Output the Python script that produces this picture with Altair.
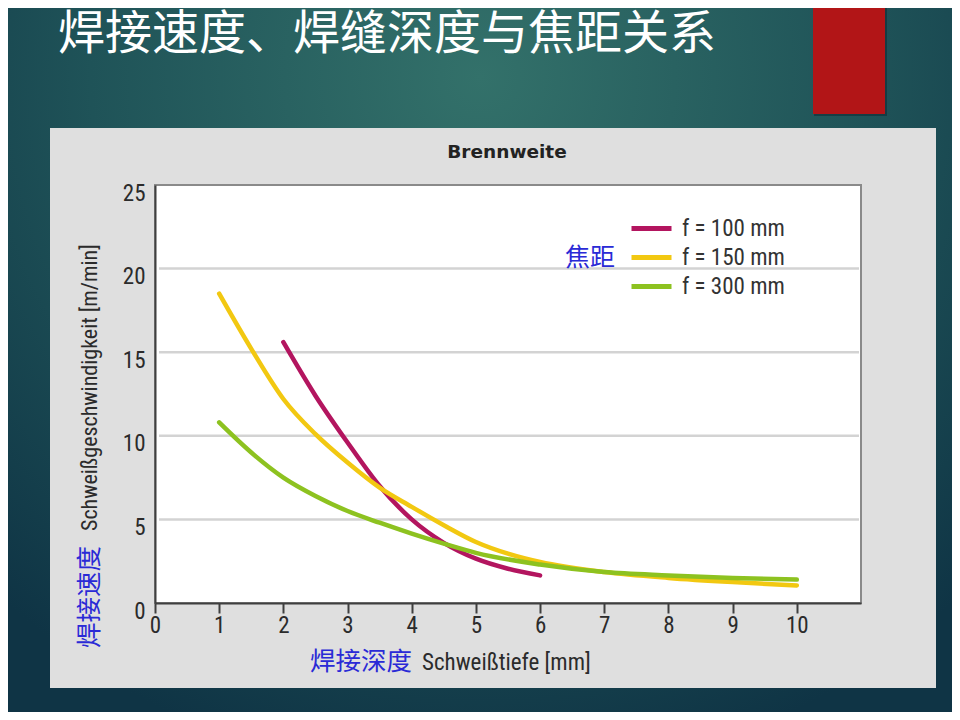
import altair as alt
import pandas as pd

# ---- data ----
series = ["f = 100 mm", "f = 150 mm", "f = 300 mm"]
colors = ["#b3155f", "#f2c811", "#8dc220"]

depth_100 = [2, 2.5, 3, 3.5, 4, 4.5, 5, 5.5, 6]
speed_100 = [15.6, 12.4, 9.6, 7.0, 5.0, 3.6, 2.65, 2.05, 1.65]

depth_150 = [1, 1.5, 2, 2.5, 3, 3.5, 4, 4.5, 5, 5.5, 6, 7, 8, 9, 10]
speed_150 = [18.5, 15.2, 12.2, 10.1, 8.4, 6.9, 5.75, 4.65, 3.65, 2.95, 2.45, 1.85, 1.5, 1.25, 1.05]

depth_300 = [1, 1.5, 2, 2.5, 3, 3.5, 4, 4.5, 5, 6, 7, 8, 9, 10]
speed_300 = [10.8, 9.0, 7.5, 6.4, 5.5, 4.8, 4.15, 3.55, 3.0, 2.3, 1.85, 1.65, 1.5, 1.4]

x_ticks = list(range(0, 11))
y_ticks = [0, 5, 10, 15, 20, 25]
grid_values = [5, 10, 15, 20]

slide_title = "焊接速度、焊缝深度与焦距关系"
chart_title = "Brennweite"
legend_cn = "焦距"
y_title_cn = "焊接速度"
y_title_de = "Schweißgeschwindigkeit [m/min]"
x_title_cn = "焊接深度"
x_title_de = "Schweißtiefe [mm]"

# ---- tables ----
rows = []
for name, xs, ys in zip(series, [depth_100, depth_150, depth_300],
                        [speed_100, speed_150, speed_300]):
    for i, (a, b) in enumerate(zip(xs, ys)):
        rows.append({"series": name, "depth": a, "speed": b, "order": i})
df = pd.DataFrame(rows)
grid_df = pd.DataFrame({"g": grid_values})

COND = "Liberation Sans Narrow, Roboto Condensed, DejaVu Sans Condensed, Roboto, sans-serif"
CJK = "Noto Sans CJK SC"
BLUE = "#2a2ad6"
INK = "#2b2b2b"

PW, PH = 706, 418          # plot area
PL, PT = 147, 177          # offset of plot area inside chart
CW, CH = 944, 704          # whole chart

one = alt.Data(values=[{}])

bg_grad = alt.RadialGradient(
    gradient="radial",
    stops=[alt.GradientStop(offset=0, color="#33716a"),
           alt.GradientStop(offset=0.55, color="#1f5358"),
           alt.GradientStop(offset=1, color="#0f3445")],
    x1=0.5, y1=0.2, r1=0, x2=0.5, y2=0.2, r2=0.75,
)

background = alt.Chart(one).mark_rect(fill=bg_grad).encode(
    x=alt.value(-PL), x2=alt.value(CW - PL), y=alt.value(-PT), y2=alt.value(CH - PT))

red_shadow = alt.Chart(one).mark_rect(fill="#0b2630", opacity=0.5).encode(
    x=alt.value(659), x2=alt.value(732), y=alt.value(-PT - 8), y2=alt.value(-69))

red_box = alt.Chart(one).mark_rect(fill="#b21517").encode(
    x=alt.value(658), x2=alt.value(730), y=alt.value(-PT - 8), y2=alt.value(-71))

title_text = alt.Chart(one).mark_text(
    text=slide_title, font=CJK, fontSize=47, color="#ffffff",
    align="left", baseline="middle").encode(x=alt.value(-97), y=alt.value(-150))

panel = alt.Chart(one).mark_rect(fill="#dfdfdf").encode(
    x=alt.value(-105), x2=alt.value(781), y=alt.value(-57), y2=alt.value(503))

plot_bg = alt.Chart(one).mark_rect(fill="#ffffff", stroke="#8a8a8a", strokeWidth=2).encode(
    x=alt.value(0), x2=alt.value(PW), y=alt.value(0), y2=alt.value(PH))

grid = alt.Chart(grid_df).mark_rule(color="#d3d3d3", strokeWidth=2.5).encode(
    y=alt.Y("g:Q"), x=alt.value(4), x2=alt.value(PW - 2))

lines = alt.Chart(df).mark_line(strokeWidth=4.5, interpolate="monotone",
                                strokeCap="round").encode(
    x=alt.X("depth:Q", scale=alt.Scale(domain=[0, 11], nice=False, zero=True),
            axis=alt.Axis(values=x_ticks, title=None, grid=False, zindex=1,
                          domainColor="#3f3f3f", domainWidth=2,
                          tickColor="#3f3f3f", tickWidth=2, tickSize=10,
                          labelFont=COND, labelFontSize=23, labelColor=INK,
                          labelPadding=1, labelFlush=False)),
    y=alt.Y("speed:Q", scale=alt.Scale(domain=[0, 25], nice=False),
            axis=alt.Axis(values=y_ticks, title=None, grid=False, zindex=1,
                          ticks=False, domainColor="#3f3f3f", domainWidth=2,
                          labelFont=COND, labelFontSize=23, labelColor=INK,
                          labelPadding=10, labelOffset=8, labelFlush=False)),
    color=alt.Color("series:N",
                    scale=alt.Scale(domain=series, range=colors),
                    legend=alt.Legend(orient="none", legendX=484, legendY=31,
                                      title=None, padding=0,
                                      symbolType="M-2,0H2", symbolSize=400,
                                      symbolStrokeWidth=5,
                                      labelFont=COND, labelFontSize=23,
                                      labelColor="#333333", labelOffset=18,
                                      rowPadding=4)),
    order="order:Q",
)

brenn = alt.Chart(one).mark_text(
    text=chart_title, font="DejaVu Sans", fontWeight="bold", fontSize=18.5,
    color="#222222", align="center", baseline="middle").encode(
    x=alt.value(352), y=alt.value(-33))

focal = alt.Chart(one).mark_text(
    text=legend_cn, font=CJK, fontSize=25, color=BLUE,
    align="center", baseline="middle").encode(x=alt.value(435), y=alt.value(73))

ytitle_cn = alt.Chart(one).mark_text(
    text=y_title_cn, font=CJK, fontSize=25.5, color=BLUE, angle=270,
    align="left", baseline="middle").encode(x=alt.value(-65), y=alt.value(463))

ytitle_de = alt.Chart(one).mark_text(
    text=y_title_de, font=COND, fontSize=22, color=INK, angle=270,
    align="left", baseline="middle").encode(x=alt.value(-65), y=alt.value(346))

xtitle_cn = alt.Chart(one).mark_text(
    text=x_title_cn, font=CJK, fontSize=25.5, color=BLUE,
    align="left", baseline="middle").encode(x=alt.value(155), y=alt.value(477))

xtitle_de = alt.Chart(one).mark_text(
    text=x_title_de, font=COND, fontSize=23, color=INK,
    align="left", baseline="middle").encode(x=alt.value(267), y=alt.value(478))

chart = alt.layer(
    background, red_shadow, red_box, title_text, panel, plot_bg, grid, lines,
    brenn, focal, ytitle_cn, ytitle_de, xtitle_cn, xtitle_de,
).properties(
    width=PW, height=PH,
    autosize=alt.AutoSizeParams(type="none"),
    padding={"left": PL, "top": PT, "right": CW - PL - PW, "bottom": CH - PT - PH},
).configure_view(stroke=None).configure(background="#0f3445")

chart.save("out.html", embed_options={"renderer": "svg", "actions": False})
